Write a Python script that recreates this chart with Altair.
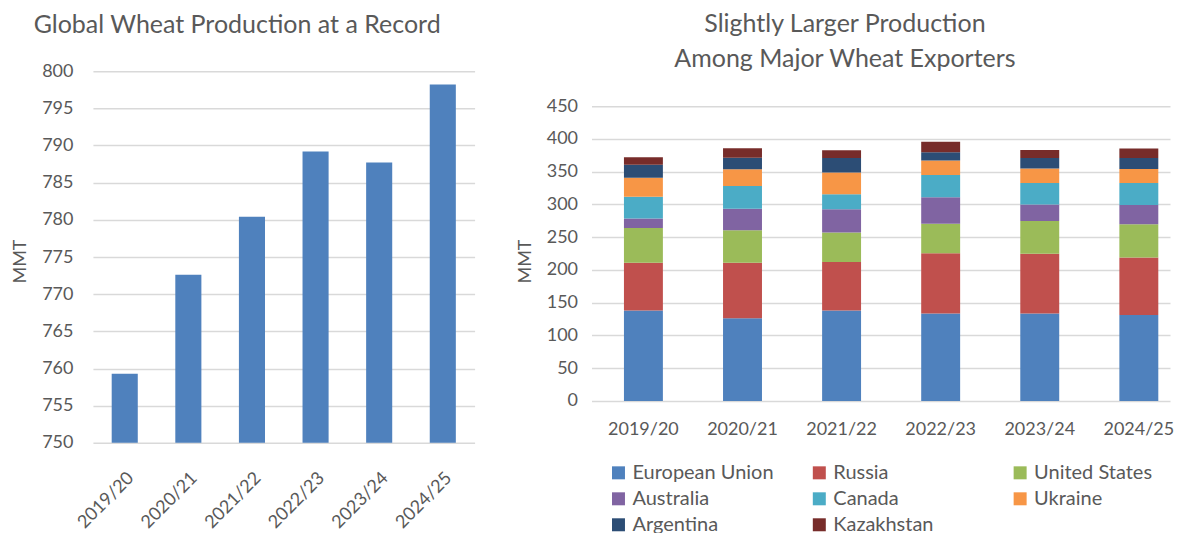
import altair as alt
import pandas as pd

years = ["2019/20", "2020/21", "2021/22", "2022/23", "2023/24", "2024/25"]
world = [759.3, 772.6, 780.4, 789.2, 787.7, 798.2]

countries = ["European Union", "Russia", "United States", "Australia",
             "Canada", "Ukraine", "Argentina", "Kazakhstan"]
eu = [138.0, 126.0, 138.0, 133.5, 133.5, 131.0]
russia = [73.0, 85.0, 74.0, 92.0, 91.0, 88.0]
us = [53.0, 49.7, 45.0, 45.0, 50.0, 50.7]
australia = [14.5, 32.5, 35.5, 40.5, 25.5, 29.5]
canada = [33.0, 35.0, 22.8, 34.0, 32.5, 33.5]
ukraine = [29.0, 25.4, 33.5, 22.0, 22.3, 21.3]
argentina = [20.0, 17.7, 22.0, 12.5, 16.2, 16.8]
kazakhstan = [11.5, 14.3, 12.0, 16.0, 12.0, 14.7]
colors = ["#4F81BD", "#C0504D", "#9BBB59", "#8064A2",
          "#4BACC6", "#F79646", "#2C4D75", "#772C2A"]

FONT = "Lato"
TXT = "#595959"
GRID = "#D9D9D9"

df_world = pd.DataFrame({"year": years, "mmt": world})

series = [eu, russia, us, australia, canada, ukraine, argentina, kazakhstan]
rows = []
for ci, (c, vals) in enumerate(zip(countries, series)):
    for y, v in zip(years, vals):
        rows.append({"year": y, "country": c, "mmt": v, "idx": ci})
df_exp = pd.DataFrame(rows)

left = alt.Chart(df_world).mark_bar(color="#4F81BD").encode(
    x=alt.X("year:N", sort=years, title=None,
            scale=alt.Scale(paddingInner=0.59, paddingOuter=0.295),
            axis=alt.Axis(labelAngle=-45, domain=False, ticks=False,
                          labelPadding=26)),
    y=alt.Y("mmt:Q", title="MMT",
            scale=alt.Scale(domain=[750, 800], zero=False, nice=False),
            axis=alt.Axis(values=list(range(750, 801, 5)), domain=False,
                          ticks=False, labelPadding=20, titlePadding=12,
                          titleY=190)),
    y2=alt.datum(750),
).properties(
    width=382, height=372,
    title=alt.TitleParams("Global Wheat Production at a Record", anchor="middle",
                          frame="bounds", fontSize=25, font=FONT, color=TXT,
                          fontWeight="normal", offset=24, dx=-6),
)

right = alt.Chart(df_exp).mark_bar().encode(
    x=alt.X("year:N", sort=years, title=None,
            scale=alt.Scale(paddingInner=0.607, paddingOuter=0.2228, align=0.735),
            axis=alt.Axis(labelAngle=0, domain=False, ticks=False, labelPadding=20)),
    y=alt.Y("mmt:Q", title="MMT", stack="zero",
            scale=alt.Scale(domain=[0, 503.39], nice=False),
            axis=alt.Axis(values=list(range(0, 451, 50)), domain=False,
                          ticks=False, labelPadding=14, titlePadding=12,
                          titleY=190)),
    color=alt.Color("country:N", scale=alt.Scale(domain=countries, range=colors),
                    legend=alt.Legend(title=None, orient="none", legendX=516, legendY=392,
                                      direction="horizontal", columns=3, gridAlign="all",
                                      symbolType="square", symbolSize=169,
                                      symbolStrokeWidth=0, labelFontSize=20,
                                      labelFont=FONT, labelColor=TXT, columnPadding=35,
                                      rowPadding=6, labelLimit=300, labelOffset=4)),
    order=alt.Order("idx:Q", sort="ascending"),
).properties(
    width=579, height=330,
    title=alt.TitleParams(["Slightly Larger Production", "Among Major Wheat Exporters"],
                          anchor="middle", frame="bounds", fontSize=25, font=FONT,
                          color=TXT, fontWeight="normal", offset=-1, lineHeight=35),
)

chart = alt.hconcat(left, right, spacing=41).properties(
    padding={"left": 3, "top": 4, "right": 0, "bottom": 0}
).configure_view(stroke=None).configure_axis(
    labelFont=FONT, labelFontSize=18, labelColor=TXT,
    titleFont=FONT, titleFontSize=18, titleColor=TXT, titleFontWeight="normal",
    gridColor=GRID, gridWidth=1.5,
)

chart.save("out.html", embed_options={"renderer": "svg", "actions": False})
